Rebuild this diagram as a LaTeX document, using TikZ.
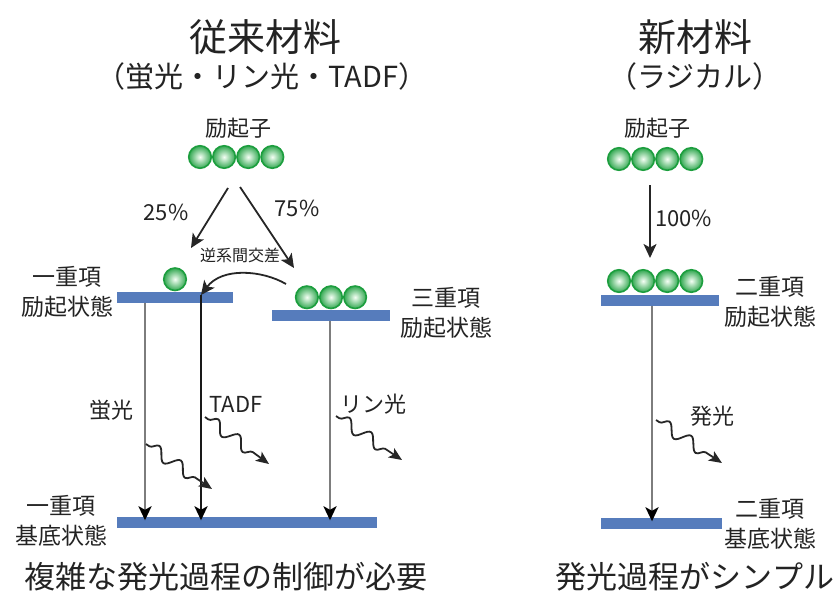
\documentclass[tikz,border=0pt]{standalone}
\usepackage{fontspec}
\setmainfont{Noto Sans CJK JP}
\usetikzlibrary{shapes, arrows.meta, positioning, decorations.pathmorphing}
\definecolor{barblue}{RGB}{86,124,188}
\definecolor{ballgreen}{RGB}{28,158,62}
\definecolor{linegray}{RGB}{125,125,125}
\definecolor{txt}{RGB}{35,35,35}
\tikzstyle{title} = [text=txt, inner sep=0pt, font=\fontsize{38}{40}\selectfont]
\tikzstyle{subtitle} = [text=txt, inner sep=0pt, font=\fontsize{29}{31}\selectfont]
\tikzstyle{caption} = [text=txt, inner sep=0pt, font=\fontsize{31}{33}\selectfont]
\tikzstyle{levtext} = [text=txt, inner sep=0pt, align=center, font=\fontsize{23}{30}\selectfont]
\tikzstyle{proctext} = [text=txt, inner sep=0pt, font=\fontsize{22}{24}\selectfont]
\tikzstyle{smalltext} = [text=txt, inner sep=0pt, font=\fontsize{16}{18}\selectfont]
\tikzstyle{level} = [rectangle, fill=barblue, minimum height=11pt, inner sep=0pt]
\tikzstyle{ball} = [circle, draw=ballgreen, line width=1.6pt, minimum size=22.5pt,
  inner sep=0pt, inner color=green!4!white, outer color=ballgreen!90!white]
\tikzstyle{arr} = [draw, -{Stealth[length=14pt,width=13pt,inset=3.5pt]}, line width=1.8pt, black!85]
\tikzstyle{emit} = [draw, -{Stealth[length=14pt,width=13pt,inset=3.5pt,color=black]}, line width=2.4pt,
  linegray, shorten >=-4pt]
\tikzstyle{wave} = [draw, -{Stealth[length=13pt,width=11pt,inset=3pt]}, line width=1.8pt, black!85,
  decorate, decoration={snake, amplitude=6pt, segment length=26pt, pre length=4pt, post length=10pt}]

\begin{document}
\begin{tikzpicture}[x=1pt, y=-1pt]
    \useasboundingbox (0,0) rectangle (840,594);

    % headings
    \node [title] (oldtitle) at (265,37) {従来材料};
    \node [subtitle] (oldsub) at (262,76) {（蛍光・リン光・TADF）};
    \node [title] (newtitle) at (695,37) {新材料};
    \node [subtitle] (newsub) at (695,76) {（ラジカル）};

    % conventional materials
    \node [proctext] (excL) at (238,128) {励起子};
    \node [ball] (ex1) at (200,157) {};
    \node [ball, right=0pt of ex1] (ex2) {};
    \node [ball, right=0pt of ex2] (ex3) {};
    \node [ball, right=0pt of ex3] (ex4) {};

    \node [level, minimum width=116pt] (S1) at (175,297) {};
    \node [level, minimum width=118pt] (T1) at (331,315) {};
    \node [level, minimum width=260pt] (S0) at (247,522) {};

    \node [ball, above=0pt of S1] (s1ball) {};
    \node [ball, above=0pt of T1] (t1b) {};
    \node [ball, left=0pt of t1b] (t1a) {};
    \node [ball, right=0pt of t1b] (t1c) {};

    \node [levtext] (S1lab) at (67,292) {一重項\\励起状態};
    \node [levtext] (T1lab) at (446,313) {三重項\\励起状態};
    \node [levtext] (S0lab) at (61,521) {一重項\\基底状態};

    \coordinate (split25) at (228,188);
    \coordinate (split75) at (240,187);
    \coordinate (in25) at (191,248);
    \coordinate (in75) at (294,268);
    \coordinate (risc start) at (286,284);
    \coordinate (risc) at (201,295);

    \path [arr] (split25) -- (in25);
    \path [arr] (split75) -- (in75);
    \node [proctext] (p25) at (166,212) {25\%};
    \node [proctext] (p75) at (297,208) {75\%};
    \node [smalltext] (risclab) at (240,255) {逆系間交差};
    \path [arr] (risc start) .. controls (262,270) and (222,267) .. (risc);

    \path [emit] ([xshift=-30pt]S1.south) -- ([xshift=-30pt]S1.south |- S0.north);
    \path [emit, black!90] (risc) -- (risc |- S0.north);
    \path [emit] ([xshift=-1pt]T1.south) -- ([xshift=-1pt]T1.south |- S0.north);

    \node [proctext] (fluor) at (111,410) {蛍光};
    \node [proctext] (tadf) at (236,404) {TADF};
    \node [proctext] (phos) at (373,404) {リン光};

    \coordinate (fl start) at (146,444);
    \coordinate (fl end) at (212,489);
    \coordinate (td start) at (205,417);
    \coordinate (td end) at (269,464);
    \coordinate (ph start) at (336,416);
    \coordinate (ph end) at (402,460);
    \path [wave] (fl start) -- (fl end);
    \path [wave] (td start) -- (td end);
    \path [wave] (ph start) -- (ph end);

    \node [caption] (oldcap) at (226,577) {複雑な発光過程の制御が必要};

    % new material
    \node [proctext] (excR) at (657,128) {励起子};
    \node [ball] (rx1) at (619,159) {};
    \node [ball, right=0pt of rx1] (rx2) {};
    \node [ball, right=0pt of rx2] (rx3) {};
    \node [ball, right=0pt of rx3] (rx4) {};

    \node [level, minimum width=118pt] (D1) at (660,300) {};
    \node [level, minimum width=121pt] (D0) at (661,523) {};

    \node [ball] (dx1) at (619,281) {};
    \node [ball, right=0pt of dx1] (dx2) {};
    \node [ball, right=0pt of dx2] (dx3) {};
    \node [ball, right=0pt of dx3] (dx4) {};

    \node [levtext] (D1lab) at (770,302) {二重項\\励起状態};
    \node [levtext] (D0lab) at (770,524) {二重項\\基底状態};

    \coordinate (split100) at (650,185);
    \coordinate (in100) at (650,258);
    \path [arr] (split100) -- (in100);
    \node [proctext, anchor=west] (p100) at (655,218) {100\%};

    \path [emit] ([xshift=-8pt]D1.south) -- ([xshift=-8pt]D1.south |- D0.north);
    \node [proctext] (emitlab) at (712,416) {発光};
    \coordinate (em start) at (656,420);
    \coordinate (em end) at (722,463);
    \path [wave] (em start) -- (em end);

    \node [caption] (newcap) at (695,577) {発光過程がシンプル};

\end{tikzpicture}
\end{document}
